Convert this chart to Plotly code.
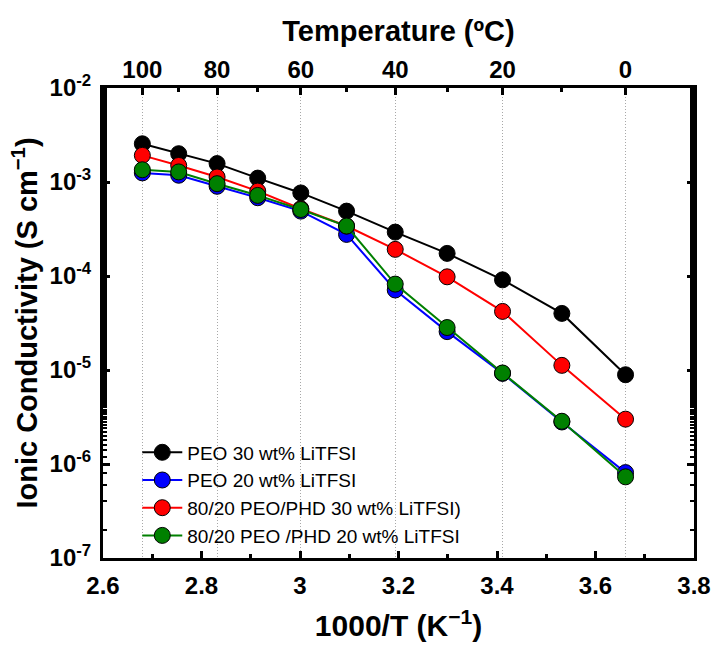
import plotly.graph_objects as go

temps_c = [100, 90, 80, 70, 60, 50, 40, 30, 20, 10, 0]
inv_t = [1000.0 / (t + 273.15) for t in temps_c]

peo30 = [2.55e-3, 2.0e-3, 1.57e-3, 1.10e-3, 7.65e-4, 4.9e-4, 2.93e-4, 1.74e-4, 9.1e-5, 4.0e-5, 8.9e-6]
peo20 = [1.25e-3, 1.18e-3, 9.0e-4, 6.8e-4, 4.9e-4, 2.77e-4, 7.1e-5, 2.56e-5, 9.2e-6, 2.8e-6, 8.1e-7]
blend30 = [1.92e-3, 1.50e-3, 1.13e-3, 8.0e-4, 5.2e-4, 3.4e-4, 1.92e-4, 9.8e-5, 4.2e-5, 1.12e-5, 3.0e-6]
blend20 = [1.35e-3, 1.28e-3, 9.6e-4, 7.2e-4, 5.1e-4, 3.4e-4, 8.2e-5, 2.83e-5, 9.3e-6, 2.85e-6, 7.3e-7]

names = ["PEO 30 wt% LiTFSI", "PEO 20 wt% LiTFSI",
         "80/20 PEO/PHD 30 wt% LiTFSI)", "80/20 PEO /PHD 20 wt% LiTFSI"]
colors = ["#000000", "#0000ff", "#ff0000", "#008000"]
series = [peo30, peo20, blend30, blend20]

top_temps = [100, 80, 60, 40, 20, 0]
top_minor = [90, 70, 50, 30, 10]
x_ticks = [2.6, 2.8, 3.0, 3.2, 3.4, 3.6, 3.8]
y_tick_exp = [-2, -3, -4, -5, -6, -7]

FONT = "Liberation Sans"
TICK = dict(size=24, family=FONT, weight="bold")
TITLE = dict(size=29, family=FONT, weight="bold")

fig = go.Figure()
for nm, col, ys in zip(names, colors, series):
    fig.add_trace(go.Scatter(
        x=inv_t, y=ys, name=nm, mode="lines+markers",
        line=dict(color=col, width=2),
        marker=dict(color=col, size=16, line=dict(color="black", width=1)),
    ))

# invisible trace to activate top axis
fig.add_trace(go.Scatter(x=[inv_t[0], inv_t[-1]], y=[1e-3, 1e-3], xaxis="x2",
                         mode="markers", marker=dict(opacity=0), showlegend=False,
                         hoverinfo="skip"))

fig.update_layout(
    width=713, height=645, autosize=False,
    margin=dict(l=103, r=19, t=88, b=87, autoexpand=False),
    plot_bgcolor="white", paper_bgcolor="white",
    font=dict(family=FONT, color="black"),
    showlegend=True,
    legend=dict(x=0.058, y=0.265, xanchor="left", yanchor="top",
                bgcolor="rgba(0,0,0,0)", font=dict(size=19, family=FONT),
                tracegroupgap=0, itemwidth=40),
    xaxis=dict(
        range=[2.6, 3.8], tickvals=x_ticks,
        ticktext=[("%g" % v) for v in x_ticks],
        ticks="inside", ticklen=7, tickwidth=2.5, tickcolor="black",
        minor=dict(dtick=0.1, tick0=2.6, ticks="inside", ticklen=4, tickwidth=2.5, tickcolor="black"),
        showline=True, linewidth=3, linecolor="black", mirror=True,
        showgrid=False, zeroline=False, ticklabelstandoff=4, automargin=False,
        tickfont=TICK,
        title=dict(text="1000/T (K<sup>\u22121</sup>)", font=dict(size=30, family=FONT, weight="bold"), standoff=18),
    ),
    xaxis2=dict(
        overlaying="x", side="top", range=[2.6, 3.8],
        tickvals=[1000.0 / (t + 273.15) for t in top_temps],
        ticktext=[str(t) for t in top_temps],
        ticks="inside", ticklen=7, tickwidth=2.5, tickcolor="black",
        minor=dict(tickvals=[1000.0 / (t + 273.15) for t in top_minor], ticks="inside",
                   ticklen=4, tickwidth=2.5, tickcolor="black", showgrid=False),
        showgrid=True, gridcolor="#a8a8a8", griddash="1px,2px", gridwidth=1,
        showline=False, zeroline=False, ticklabelstandoff=4, automargin=False,
        tickfont=TICK,
        title=dict(text="Temperature (\u00baC)", font=TITLE, standoff=6),
    ),
    yaxis=dict(
        type="log", range=[-7, -2],
        tickvals=[10 ** e for e in y_tick_exp],
        ticktext=["10<sup>%d</sup>" % e for e in y_tick_exp],
        ticks="inside", ticklen=7, tickwidth=2.5, tickcolor="black",
        minor=dict(ticks="inside", ticklen=4, tickwidth=2, tickcolor="black", showgrid=False),
        showline=True, linewidth=3, linecolor="black", mirror="ticks",
        showgrid=False, zeroline=False, ticklabelstandoff=4, automargin=False,
        tickfont=TICK,
        title=dict(text="Ionic Conductivity (S cm<sup>\u22121</sup>)", font=TITLE, standoff=4),
    ),
)

fig.write_html("out.html", config={"displayModeBar": False, "responsive": False},
               post_script="document.documentElement.style.margin='0';document.body.style.margin='0';"
                           "document.documentElement.style.overflow='hidden';document.body.style.overflow='hidden';")
